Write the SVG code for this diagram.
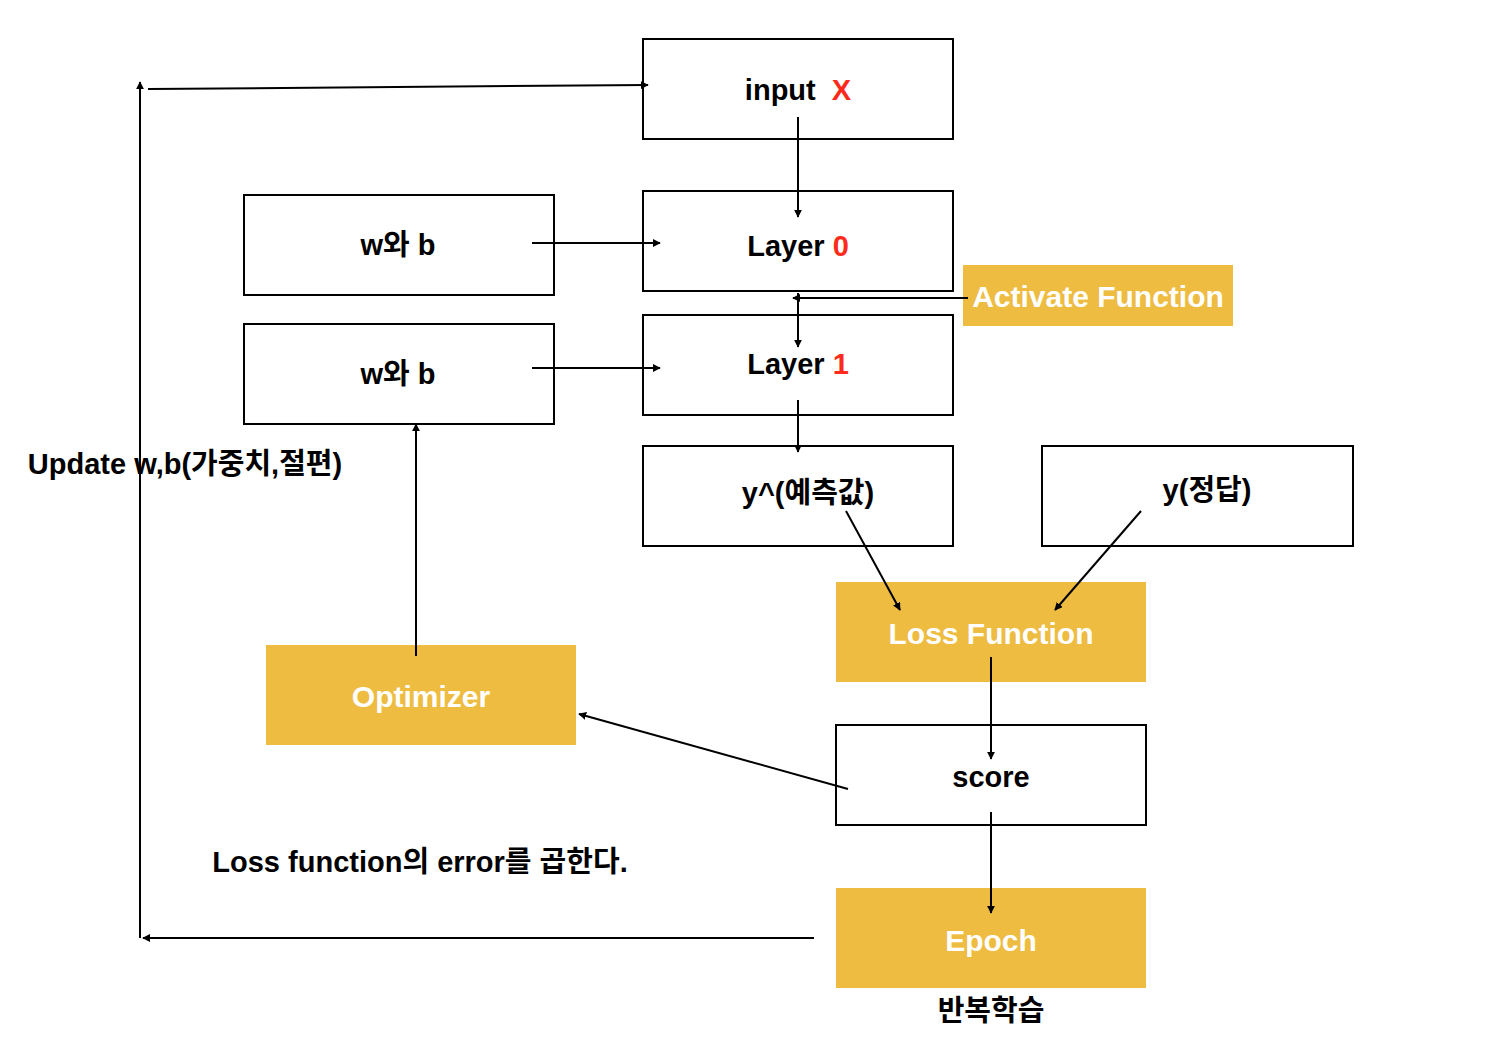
<svg xmlns="http://www.w3.org/2000/svg" width="1508" height="1056" viewBox="0 0 1508 1056">
<defs>
<marker id="ah" viewBox="0 0 10 10" refX="9" refY="5" markerWidth="8" markerHeight="8" markerUnits="userSpaceOnUse" orient="auto">
<path d="M0,0 L10,5 L0,10 z" fill="#000"/>
</marker>
<style>
.box{fill:#fff;stroke:#000;stroke-width:2}
.fill{fill:#EDBC41;stroke:none}
.t{font-family:"Liberation Sans","Noto Sans CJK KR",Arial,sans-serif;font-weight:bold;font-size:29px;fill:#000;text-anchor:middle;dominant-baseline:central}
.w{font-family:"Liberation Sans","Noto Sans CJK KR",Arial,sans-serif;font-weight:bold;font-size:30px;fill:#fff;text-anchor:middle;dominant-baseline:central}
.red{fill:#FF2A1A}
.c{fill:none;stroke:#000;stroke-width:2;marker-end:url(#ah)}
</style>
</defs>
<rect width="1508" height="1056" fill="#fff"/>
<g id="input"><rect class="box" x="643" y="39" width="310" height="100"/><text class="t" x="798" y="90">input <tspan class="red" dx="8">X</tspan></text></g>
<g id="layer0"><rect class="box" x="643" y="191" width="310" height="100"/><text class="t" x="798" y="246">Layer <tspan class="red">0</tspan></text></g>
<g id="layer1"><rect class="box" x="643" y="315" width="310" height="100"/><text class="t" x="798" y="364">Layer <tspan class="red">1</tspan></text></g>
<g id="yhat"><rect class="box" x="643" y="446" width="310" height="100"/><text class="t" x="808" y="493">y^(예측값)</text></g>
<g id="y"><rect class="box" x="1042" y="446" width="311" height="100"/><text class="t" x="1207" y="490">y(정답)</text></g>
<g id="wb0"><rect class="box" x="244" y="195" width="310" height="100"/><text class="t" x="398" y="245">w와 b</text></g>
<g id="wb1"><rect class="box" x="244" y="324" width="310" height="100"/><text class="t" x="398" y="374">w와 b</text></g>
<g id="activate"><rect class="fill" x="963" y="265" width="270" height="61"/><text class="w" x="1098" y="296">Activate Function</text></g>
<g id="loss"><rect class="fill" x="836" y="582" width="310" height="100"/><text class="w" x="991" y="633">Loss Function</text></g>
<g id="optimizer"><rect class="fill" x="266" y="645" width="310" height="100"/><text class="w" x="421" y="696">Optimizer</text></g>
<g id="score"><rect class="box" x="836" y="725" width="310" height="100"/><text class="t" x="991" y="777">score</text></g>
<g id="epoch"><rect class="fill" x="836" y="888" width="310" height="100"/><text class="w" x="991" y="940">Epoch</text></g>
<g id="labels">
<text class="t" x="185" y="464">Update w,b(가중치,절편)</text>
<text class="t" x="420" y="862">Loss function의 error를 곱한다.</text>
<text class="t" x="991" y="1011">반복학습</text>
</g>
<g id="connectors">
<path class="c" d="M148,89 L648,85"/>
<path class="c" d="M140,938 L140,82"/>
<path class="c" d="M814,938 L143,938"/>
<path class="c" d="M798,117 L798,217"/>
<path class="c" d="M532,243 L660,243"/>
<path class="c" d="M968,298 L793,298"/>
<path class="c" d="M798,293 L798,347"/>
<path class="c" d="M532,368 L660,368"/>
<path class="c" d="M798,400 L798,452"/>
<path class="c" d="M846,511 L900,610"/>
<path class="c" d="M1141,511 L1055,610"/>
<path class="c" d="M416,656 L416,424"/>
<path class="c" d="M991,657 L991,759"/>
<path class="c" d="M848,789 L579,714"/>
<path class="c" d="M991,812 L991,913"/>
</g>
</svg>
